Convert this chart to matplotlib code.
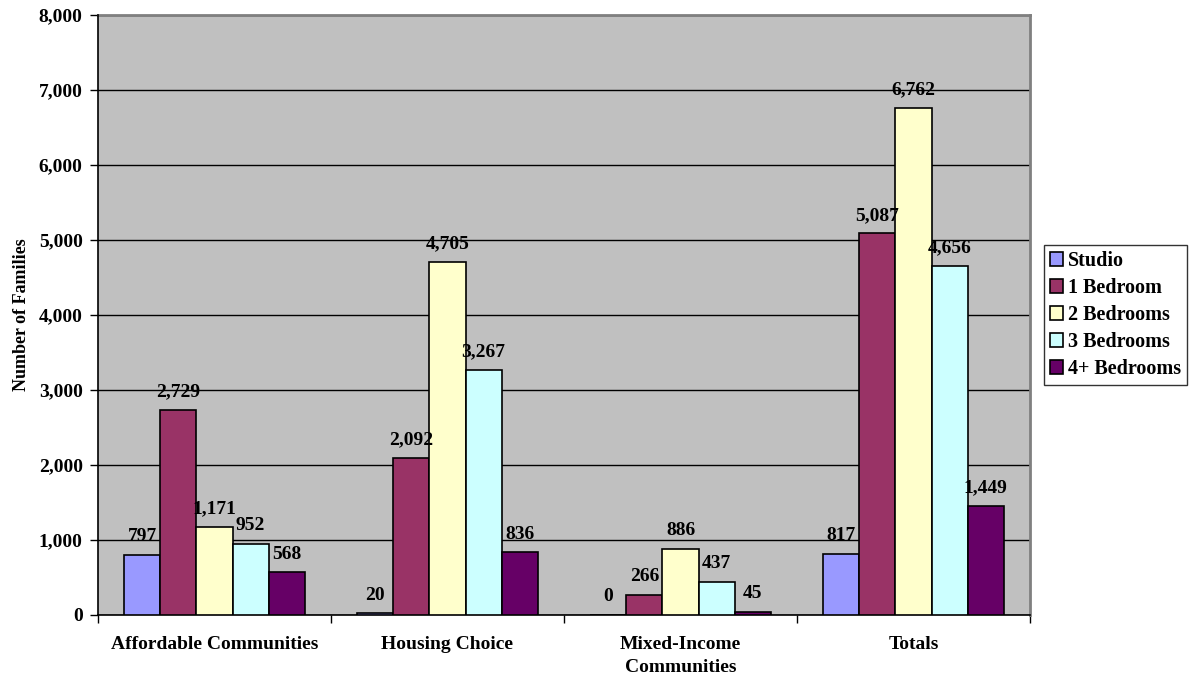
import matplotlib.pyplot as plt
import numpy as np

groups = ['Affordable Communities', 'Housing Choice', 'Mixed-Income\nCommunities', 'Totals']
series = ['Studio', '1 Bedroom', '2 Bedrooms', '3 Bedrooms', '4+ Bedrooms']
studio = [797, 20, 0, 817]
bed1 = [2729, 2092, 266, 5087]
bed2 = [1171, 4705, 886, 6762]
bed3 = [952, 3267, 437, 4656]
bed4 = [568, 836, 45, 1449]
colors = ['#9999FF', '#993366', '#FFFFCC', '#CCFFFF', '#660066']

plt.rcParams['font.family'] = ['Liberation Serif', 'DejaVu Serif']
plt.rcParams['font.weight'] = 'bold'

fig = plt.figure(figsize=(11.89, 6.77), dpi=100)
ax = fig.add_axes([0.0824, 0.0916, 0.7839, 0.8862])
ax.set_facecolor('#C0C0C0')

x = np.arange(len(groups)) + 0.5
w = 0.155
for i, (name, vals) in enumerate(zip(series, [studio, bed1, bed2, bed3, bed4])):
    pos = x + (i - 2) * w
    bars = ax.bar(pos, vals, w, color=colors[i], edgecolor='black', linewidth=1.2,
                  label=name, zorder=3)
    for b, v in zip(bars, vals):
        ax.annotate(f'{v:,}', (b.get_x() + b.get_width() / 2, v), xytext=(0, 7),
                    textcoords='offset points', ha='center', va='bottom',
                    fontsize=14, fontweight='bold', zorder=4)

ax.set_xlim(0, 4)
ax.set_ylim(0, 8000)
ax.set_yticks(range(0, 8001, 1000))
ax.yaxis.set_major_formatter(plt.FuncFormatter(lambda v, _: f'{int(v):,}'))
ax.grid(axis='y', color='black', linewidth=1, zorder=1)
ax.set_xticks(range(0, 5))
ax.set_xticklabels([])
ax.set_xticks(x, minor=True)
ax.set_xticklabels(groups, minor=True, fontsize=14, fontweight='bold', linespacing=1.45)
ax.tick_params(axis='x', which='minor', length=0, pad=15)
ax.tick_params(axis='x', which='major', length=6, direction='out', width=1)
ax.tick_params(axis='y', length=6, direction='out', width=1, labelsize=14, pad=5)
for lab in ax.get_yticklabels():
    lab.set_fontweight('bold')
for side in ('top', 'right'):
    ax.spines[side].set_color('#808080')
    ax.spines[side].set_linewidth(2)
    ax.spines[side].set_zorder(2)
ax.spines['left'].set_linewidth(1.2)
ax.spines['bottom'].set_linewidth(1.2)
ax.set_ylabel('Number of Families', fontsize=13, fontweight='bold', labelpad=6)

leg = ax.legend(loc='center left', bbox_to_anchor=(1.015, 0.5), frameon=True,
                fancybox=False, edgecolor='black', fontsize=14.5,
                handlelength=0.65, handleheight=0.65, handletextpad=0.25,
                borderpad=0.3, labelspacing=0.35, borderaxespad=0)
leg.get_frame().set_linewidth(1)
for t in leg.get_texts():
    t.set_fontweight('bold')

fig.savefig('out.png', dpi=100)
